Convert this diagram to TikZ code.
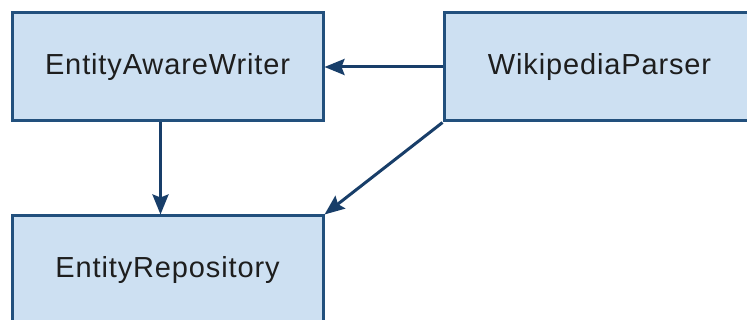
\documentclass[tikz,border=0pt]{standalone}
\usepackage{fontspec}
\setmainfont{Liberation Sans}[LetterSpace=3]
\usetikzlibrary{arrows.meta}
\definecolor{boxfill}{HTML}{CDE0F2}
\definecolor{boxline}{HTML}{22507D}
\definecolor{arrowcol}{HTML}{183E69}
\definecolor{txt}{HTML}{1E1E1E}
\tikzset{
  classbox/.style={draw=boxline, fill=boxfill, line width=3pt, minimum width=311pt, minimum height=108pt, inner sep=0pt, text=txt, font=\fontsize{29}{32}\selectfont},
  dep/.style={draw=arrowcol, line width=3pt, -{Stealth[length=20pt,width=16pt,inset=3pt]}}
}
\begin{document}
\begin{tikzpicture}[x=1pt,y=-1pt]
\useasboundingbox (0,0) rectangle (747,320);
\clip (0,0) rectangle (747,320);
\node[classbox] (eaw) at (167.5,67) {EntityAwareWriter};
\node[classbox] (wp) at (599.5,67) {WikipediaParser};
\node[classbox] (er) at (167.5,270) {EntityRepository};
\draw[dep] (wp.west) -- (eaw.east);
\draw[dep] ([xshift=-7pt]eaw.south) -- ([xshift=-7pt]er.north);
\draw[dep] (wp.south west) -- (er.north east);
\end{tikzpicture}
\end{document}
